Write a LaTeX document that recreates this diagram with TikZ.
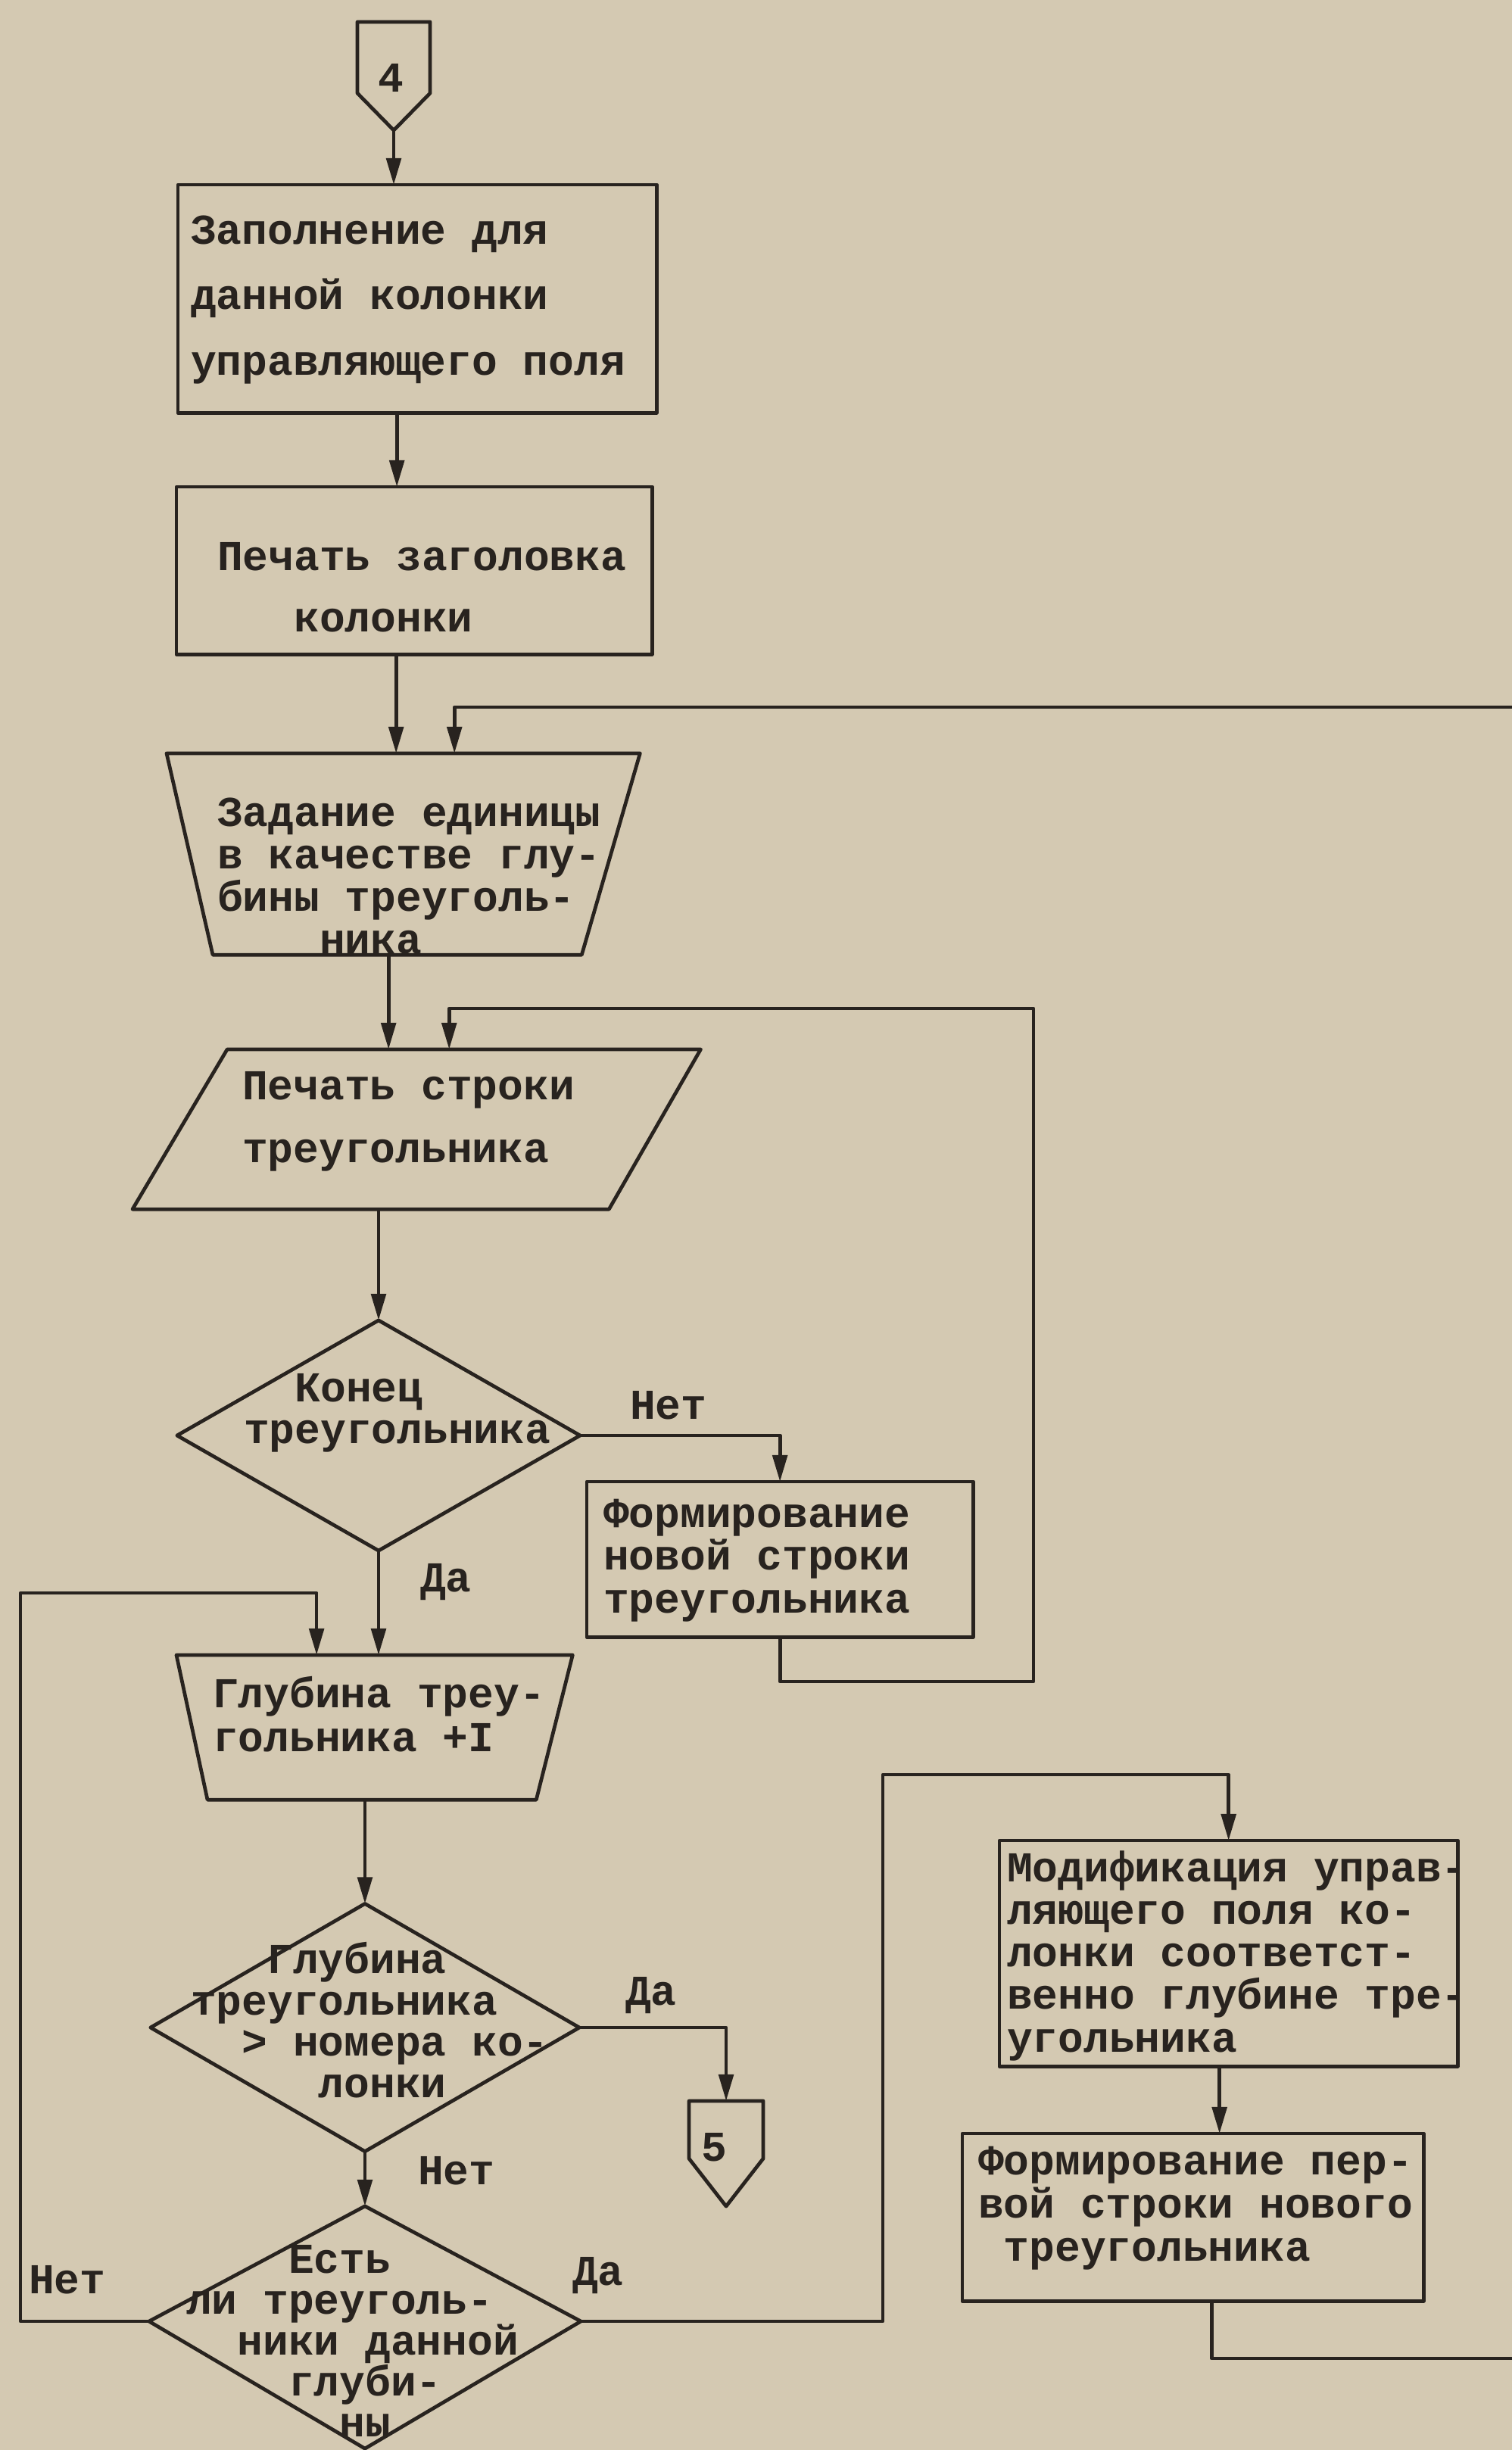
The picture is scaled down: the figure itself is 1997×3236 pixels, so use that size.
\documentclass[tikz,border=0pt]{standalone}
\usepackage{fontspec}
\newfontfamily\tw{Liberation Mono}
\usetikzlibrary{arrows.meta,calc}
\definecolor{paper}{RGB}{212,201,178}
\definecolor{ink}{RGB}{40,35,31}
\begin{document}
\begin{tikzpicture}[x=0.01cm, y=-0.01cm,
  lin/.style={line width=1.35pt, draw=ink, line join=round},
  arr/.style={lin, -{Triangle[length=10pt,width=5.5pt]}},
  frm/.style={inner sep=0pt, outer sep=0pt, anchor=north west},
  tx/.style={inner sep=0pt, outer sep=0pt, anchor=west, align=left, text=ink,
    font=\tw\bfseries\fontsize{16pt}{#1}\selectfont},
  tx/.default=16pt,
  lab/.style={inner sep=0pt, outer sep=0pt, anchor=base west, text=ink,
    font=\tw\bfseries\fontsize{16pt}{16pt}\selectfont}]
\useasboundingbox (0,0) rectangle (1997,3236);
\fill[paper] (0,0) rectangle (1997,3236);

% connector 4
\node[frm, minimum width=0.96cm, minimum height=1.43cm] (c4) at (472,29) {};
\draw[lin] (c4.north west) -- (c4.north east) -- ([yshift=0.49cm]c4.south east)
  -- (c4.south) -- ([yshift=0.49cm]c4.south west) -- cycle;
\node[tx, anchor=center] (c4t) at (516,103) {4};

% box 1
\node[frm, lin, minimum width=6.32cm, minimum height=3.01cm] (b1) at (235,244) {};
\node[tx=24.5pt] (b1t) at (252,396) {Заполнение для\\данной колонки\\управляющего поля};

% box 2
\node[frm, lin, minimum width=6.28cm, minimum height=2.21cm] (b2) at (233,643) {};
\node[tx=23pt] (b2t) at (287,776) {Печать заголовка\\\phantom{000}колонки};

% trapezoid 1
\node[frm, minimum width=6.25cm, minimum height=2.66cm] (t1) at (220,995) {};
\draw[lin] (t1.north west) -- (t1.north east) -- ([xshift=-0.77cm]t1.south east)
  -- ([xshift=0.61cm]t1.south west) -- cycle;
\node[tx] (t1t) at (287,1157) {Задание единицы\\в качестве глу-\\бины треуголь-\\\phantom{0000}ника};

% parallelogram
\node[frm, minimum width=7.50cm, minimum height=2.11cm] (p1) at (175,1386) {};
\draw[lin] ([xshift=1.25cm]p1.north west) -- (p1.north east) -- ([xshift=-1.21cm]p1.south east)
  -- (p1.south west) -- cycle;
\node[tx=23.5pt] (p1t) at (320,1481) {Печать строки\\треугольника};

% diamond 1
\node[frm, anchor=center, minimum width=5.32cm, minimum height=3.04cm] (d1) at (500,1896) {};
\draw[lin] (d1.north) -- (d1.east) -- (d1.south) -- (d1.west) -- cycle;
\node[tx=15.5pt] (d1t) at (322,1866) {\phantom{00}Конец\\треугольника};

% new row box
\node[frm, lin, minimum width=5.10cm, minimum height=2.05cm] (n1) at (775,1957) {};
\node[tx] (n1t) at (797,2061) {Формирование\\новой строки\\треугольника};

% trapezoid 2
\node[frm, minimum width=5.23cm, minimum height=1.91cm] (t2) at (233,2186) {};
\draw[lin] (t2.north west) -- (t2.north east) -- ([xshift=-0.48cm]t2.south east)
  -- ([xshift=0.41cm]t2.south west) -- cycle;
\node[tx=16.5pt] (t2t) at (281,2264) {Глубина треу-\\гольника +I};

% diamond 2
\node[frm, anchor=center, minimum width=5.66cm, minimum height=3.27cm] (d2) at (482,2678) {};
\draw[lin] (d2.north) -- (d2.east) -- (d2.south) -- (d2.west) -- cycle;
\node[tx=15.5pt] (d2t) at (252,2668) {\phantom{000}Глубина\\треугольника\\\phantom{00}> номера ко-\\\phantom{00000}лонки};

% connector 5
\node[frm, minimum width=0.98cm, minimum height=1.39cm] (c5) at (910,2775) {};
\draw[lin] (c5.north west) -- (c5.north east) -- ([yshift=0.63cm]c5.south east)
  -- (c5.south) -- ([yshift=0.63cm]c5.south west) -- cycle;
\node[tx, anchor=center] (c5t) at (943,2836) {5};

% diamond 3
\node[frm, anchor=center, minimum width=5.70cm, minimum height=3.20cm] (d3) at (482,3074) {};
\draw[lin] (d3.north) -- ([yshift=0.08cm]d3.east) -- (d3.south) -- ([yshift=0.08cm]d3.west) -- cycle;
\node[tx=15.3pt] (d3t) at (246,3092) {\phantom{0000}Есть\\ли треуголь-\\\phantom{00}ники данной\\\phantom{0000}глуби-\\\phantom{000000}ны};

% modification box
\node[frm, lin, minimum width=6.05cm, minimum height=2.98cm] (m1) at (1320,2431) {};
\node[tx] (m1t) at (1330,2583) {Модификация управ-\\ляющего поля ко-\\лонки соответст-\\венно глубине тре-\\угольника};

% first row box
\node[frm, lin, minimum width=6.09cm, minimum height=2.21cm] (f1) at (1271,2818) {};
\node[tx=16.2pt] (f1t) at (1292,2917) {Формирование пер-\\вой строки нового\\\phantom{0}треугольника};

% labels
\node[lab] (l1) at (832,1874) {Нет};
\node[lab] (l2) at (555,2102) {Да};
\node[lab] (l3) at (826,2648) {Да};
\node[lab] (l4) at (552,2885) {Нет};
\node[lab] (l5) at (38,3029) {Нет};
\node[lab] (l6) at (756,3018) {Да};

% waypoints
\coordinate (e1) at (1997,934);
\coordinate (w2a) at (1365,2221);
\coordinate (w2b) at (1365,1332);
\coordinate (w3) at (27,2104);
\coordinate (w4) at (1166,2344);
\coordinate (e2) at (1997,3115);

% main flow
\draw[arr] (c4.south) -- (c4.south |- b1.north);
\draw[arr] ([xshift=-0.27cm]b1.south) -- ([xshift=-0.27cm]b1.south |- b2.north);
\draw[arr] ([xshift=-0.24cm]b2.south) -- ([xshift=-0.24cm]b2.south |- t1.north);
\draw[arr] ([xshift=-0.195cm]t1.south) -- ([xshift=-0.195cm]t1.south |- p1.north);
\draw[arr] (d1.north |- p1.south) -- (d1.north);
\draw[arr] (d1.south) -- (d1.south |- t2.north);
\draw[arr] (d2.north |- t2.south) -- (d2.north);
\draw[arr] (d2.south) -- (d3.north);
\draw[arr] (d1.east) -| (n1.north);
\draw[arr] (d2.east) -| (c5.north);
\draw[arr] ([xshift=-0.12cm]m1.south) -- ([xshift=-0.12cm]m1.south |- f1.north);

% loops
\draw[arr] (e1) -| ([xshift=0.675cm]t1.north);
\draw[arr] (n1.south) |- (w2a) -- (w2b) -| ([xshift=0.43cm]p1.north);
\draw[arr] ([yshift=0.08cm]d3.west) -| (w3) -| ([xshift=-0.765cm]t2.north);
\draw[arr] ([yshift=0.08cm]d3.east) -| (w4) -| (m1.north);
\draw[lin] ([xshift=0.245cm]f1.south) |- (e2);
\end{tikzpicture}
\end{document}
